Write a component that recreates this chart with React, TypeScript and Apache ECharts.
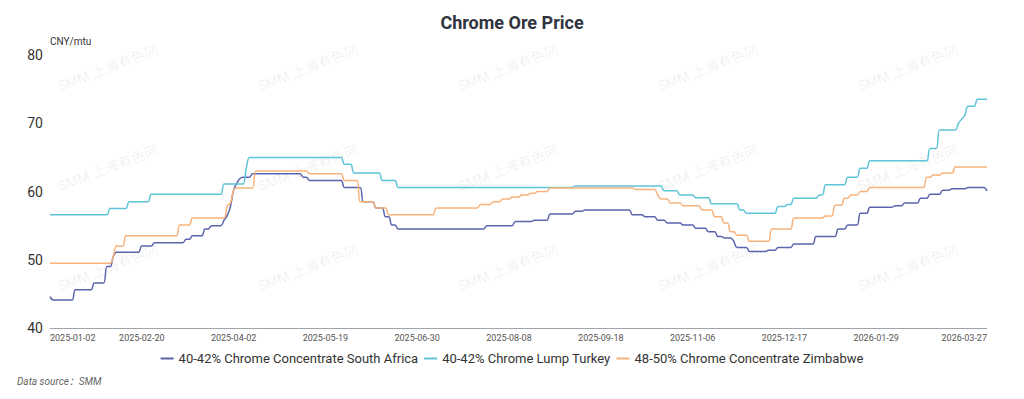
import React, { useEffect, useRef } from "react";
import * as echarts from "echarts";

// Trading-day calendar (weekdays minus Chinese market holidays)
const startDate = "2025-01-02";
const endDate = "2026-03-27";
const holidays = [
  "2025-01-01", "2025-01-28", "2025-01-29", "2025-01-30", "2025-01-31", "2025-02-03", "2025-02-04",
  "2025-04-04", "2025-05-01", "2025-05-02", "2025-05-05", "2025-06-02",
  "2025-10-01", "2025-10-02", "2025-10-03", "2025-10-06", "2025-10-07", "2025-10-08",
  "2026-01-01", "2026-01-02", "2026-02-16", "2026-02-17", "2026-02-18", "2026-02-19", "2026-02-20", "2026-02-23",
];

function buildDates(): string[] {
  const out: string[] = [];
  const d = new Date(startDate + "T00:00:00Z");
  const end = new Date(endDate + "T00:00:00Z");
  while (d.getTime() <= end.getTime()) {
    const wd = d.getUTCDay();
    const s = d.toISOString().slice(0, 10);
    if (wd !== 0 && wd !== 6 && holidays.indexOf(s) < 0) out.push(s);
    d.setUTCDate(d.getUTCDate() + 1);
  }
  return out;
}
const categories = buildDates();

// Price levels: [trading-day index where the price changes, new price]
const southAfricaSteps: [number, number][] = [
  [0, 44.6], [1, 44.1], [8, 45.6], [14, 46.6], [18, 49.0], [20, 50.5], [21, 51.1], [29, 52.0], [33, 52.5],
  [43, 53.0], [45, 53.5], [49, 54.5], [51, 55.0], [55, 55.8], [56, 56.5], [57, 57.8], [58, 60.2], [59, 61.2],
  [60, 61.9], [61, 62.1], [64, 62.6], [80, 62.1], [82, 61.6], [93, 60.6], [99, 58.5], [103, 57.6], [106, 56.3],
  [108, 55.1], [110, 54.5], [138, 55.0], [147, 55.6], [153, 55.8], [158, 56.7], [166, 57.1], [169, 57.3],
  [184, 56.6], [188, 56.3], [192, 55.8], [195, 55.4], [200, 55.1], [204, 54.6], [208, 54.1], [211, 53.4],
  [213, 53.2], [216, 52.7], [217, 51.8], [221, 51.2], [227, 51.4], [230, 51.8], [235, 52.3], [242, 53.4],
  [249, 54.5], [252, 55.1], [256, 56.8], [259, 57.7], [267, 57.9], [270, 58.3], [275, 59.0], [278, 59.6],
  [282, 60.2], [285, 60.4], [290, 60.6], [296, 60.1],
];
const turkeySteps: [number, number][] = [
  [0, 56.6], [19, 57.5], [25, 58.5], [32, 59.6], [55, 61.1], [62, 63.4], [63, 65.0], [93, 64.0], [96, 62.7],
  [105, 61.6], [110, 60.6], [166, 60.8], [194, 60.1], [199, 59.5], [204, 59.1], [209, 58.2], [218, 57.3],
  [220, 56.8], [230, 57.8], [233, 58.1], [235, 59.0], [243, 59.5], [245, 61.0], [252, 62.1], [256, 63.4],
  [259, 64.5], [278, 66.3], [281, 69.0], [287, 70.0], [288, 70.6], [289, 71.2], [290, 72.5], [293, 73.5],
];
const zimbabweSteps: [number, number][] = [
  [0, 49.5], [20, 50.5], [21, 52.0], [24, 53.5], [41, 55.1], [45, 56.1], [56, 57.9], [57, 58.3], [58, 60.2],
  [59, 60.5], [65, 63.0], [82, 62.6], [93, 61.6], [98, 58.5], [103, 57.6], [107, 56.6], [122, 57.6],
  [136, 58.1], [140, 58.5], [143, 58.9], [146, 59.2], [149, 59.5], [152, 59.75], [154, 60.0], [158, 60.5],
  [185, 60.3], [192, 59.5], [193, 58.9], [196, 58.3], [200, 57.9], [206, 57.3], [210, 56.3], [213, 55.4],
  [215, 54.1], [217, 53.6], [221, 52.7], [228, 54.5], [235, 56.1], [245, 56.4], [248, 58.0], [251, 59.0],
  [253, 59.5], [256, 60.0], [259, 60.6], [277, 62.1], [279, 62.4], [282, 62.7], [286, 63.6],
];

const seriesNames = [
  "40-42% Chrome Concentrate South Africa",
  "40-42% Chrome Lump Turkey",
  "48-50% Chrome Concentrate Zimbabwe",
];
const seriesColors = ["#5a65ad", "#5ec4d8", "#f8b27a"];
const yTicks = { min: 40, max: 80, interval: 10 };
const labelStep = 29;

function expand(steps: [number, number][], n: number): number[] {
  const out: number[] = [];
  let k = 0;
  for (let i = 0; i < n; i++) {
    while (k + 1 < steps.length && steps[k + 1][0] <= i) k++;
    out.push(steps[k][1]);
  }
  return out;
}

const FONT = 'Roboto, "Noto Sans", "Noto Sans CJK SC", sans-serif';

export default function App() {
  const ref = useRef<HTMLDivElement>(null);
  useEffect(() => {
    if (!ref.current) return;
    const chart = echarts.init(ref.current, undefined, { renderer: "svg" });
    const n = categories.length;
    const data = [southAfricaSteps, turkeySteps, zimbabweSteps].map((s) => expand(s, n));

    const watermarks: any[] = [];
    const wmX = [108, 308, 508, 708, 908];
    const wmY = [68, 168, 268];
    wmY.forEach((y) =>
      wmX.forEach((x) =>
        watermarks.push({
          type: "text",
          x,
          y,
          rotation: 0.36,
          silent: true,
          z: 0,
          style: {
            text: "SMM 上海有色网",
            fill: "rgba(0,0,0,0.07)",
            font: `14px ${FONT}`,
            align: "center",
            verticalAlign: "middle",
          },
        })
      )
    );

    chart.setOption({
      animation: false,
      textStyle: { fontFamily: FONT },
      title: {
        text: "Chrome Ore Price",
        left: "center",
        top: 8,
        textStyle: { fontSize: 18, fontWeight: "bold", color: "#30343f", fontFamily: FONT },
      },
      legend: {
        data: seriesNames,
        left: "center",
        top: 347,
        icon: "rect",
        itemWidth: 13,
        itemHeight: 2,
        itemGap: 6,
        textStyle: { fontSize: 13, color: "#333", fontFamily: FONT },
      },
      grid: { left: 50, right: 37, top: 55, bottom: 71 },
      xAxis: {
        type: "category",
        boundaryGap: false,
        data: categories,
        axisLine: { lineStyle: { color: "#a0a4ab", width: 1 } },
        axisTick: { show: false },
        axisLabel: {
          fontSize: 9,
          color: "#555",
          margin: 5,
          interval: (i: number) => (i % labelStep === 0 && i < n - 10) || i === n - 1,
          alignMinLabel: "left",
          alignMaxLabel: "right",
          showMaxLabel: true,
        },
        splitLine: { show: false },
      },
      yAxis: {
        type: "value",
        min: yTicks.min,
        max: yTicks.max,
        interval: yTicks.interval,
        name: "CNY/mtu",
        nameLocation: "end",
        nameGap: 9,
        nameTextStyle: { fontSize: 10, color: "#333", align: "left" },
        axisLine: { show: false },
        axisTick: { show: false },
        axisLabel: { fontSize: 14, color: "#333", margin: 7 },
        splitLine: { show: false },
      },
      series: seriesNames.map((name, i) => ({
        name,
        type: "line",
        data: data[i],
        symbol: "none",
        smooth: 0.4,
        color: seriesColors[i],
        lineStyle: { width: 1.5, color: seriesColors[i] },
      })),
      graphic: [
        ...watermarks,
        {
          type: "text",
          left: 17,
          top: 376,
          style: {
            text: "Data source：SMM",
            fill: "#666",
            font: `italic 10px ${FONT}`,
          },
        },
      ],
    });
    return () => chart.dispose();
  }, []);

  return (
    <div
      ref={ref}
      style={{ position: "fixed", left: 0, top: 0, width: 1024, height: 399, background: "#fff" }}
    />
  );
}
